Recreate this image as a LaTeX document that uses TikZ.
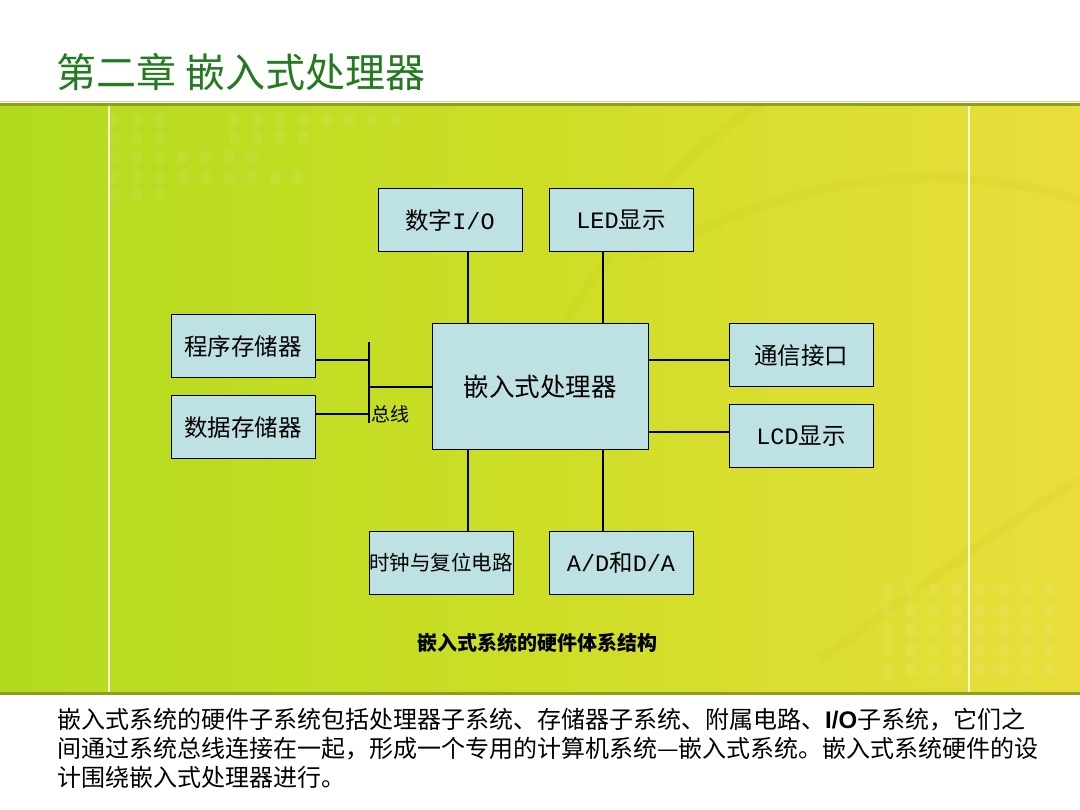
\documentclass[tikz,border=0pt]{standalone}
\usepackage{fontspec}
\setmainfont{Noto Sans CJK SC}
\newfontfamily\cjk{Noto Sans CJK SC}
\newfontfamily\latmono{Liberation Mono}
\newfontfamily\latsans{Liberation Sans}
\usetikzlibrary{calc}
\definecolor{bandL}{HTML}{B2DB1E}
\definecolor{bandM}{HTML}{CDDE26}
\definecolor{bandR}{HTML}{E9DE3C}
\definecolor{edge}{HTML}{8CA01A}
\definecolor{titlegreen}{HTML}{237A1F}
\definecolor{boxfill}{HTML}{BEE1E3}
\tikzset{
  blk/.style={draw=black, line width=1pt, fill=boxfill, minimum width=144pt, minimum height=63pt, inner sep=0pt, font=\fontsize{23.5}{26}\selectfont, text=black},
  wire/.style={line width=2.6pt, black},
  deco/.style={white, opacity=0.07},
  arcdeco/.style={line width=9pt, draw=olive!60!yellow, opacity=0.08}
}
\begin{document}
\begin{tikzpicture}[x=1pt,y=-1pt]
\useasboundingbox (0,0) rectangle (1080,810);
\fill[white] (0,0) rectangle (1080,810);
% band
\shade[left color=bandL, right color=bandR, middle color=bandM, shading angle=90] (0,105) rectangle (1080,693);
% decorative arcs
\draw[arcdeco] (560,330) .. controls (640,200) and (700,140) .. (760,105);
\draw[arcdeco] (640,260) .. controls (800,170) and (950,160) .. (1080,200);
\draw[arcdeco] (820,660) .. controls (930,580) and (1010,520) .. (1080,480);
% decorative dots top-left
\foreach \r/\n in {120/2, 138/2, 157/6, 177/8, 195/2} {
  \foreach \i in {0,...,\n} { \fill[deco] ({114+23*\i},\r) ellipse (5.5pt and 7pt); }
}
\foreach \i in {0,...,7} { \fill[deco] ({234+23*\i},120) ellipse (5.5pt and 7pt); }
\foreach \i in {0,...,3} { \fill[deco] ({234+23*\i},138) ellipse (5.5pt and 7pt); }
% decorative dots bottom-right
\foreach \r in {590,610,630,650,670} {
  \foreach \i in {0,...,7} { \fill[deco] ({888+23*\i},\r) ellipse (5.5pt and 7pt); }
}
% band edges
\draw[line width=1pt, color=edge!40] (0,102) -- (1080,102);
\draw[line width=3pt, color=edge] (0,104.5) -- (1080,104.5);
\draw[line width=3pt, color=edge] (0,693) -- (1080,693);
% white vertical lines
\draw[line width=2pt, color=white!85!yellow] (109,106) -- (109,691.5);
\draw[line width=2pt, color=white!85!yellow] (969,106) -- (969,691.5);
% title
\node[anchor=base west, inner sep=0pt, text=titlegreen, font=\fontsize{40}{44}\selectfont] (title) at (56,88) {第二章 嵌入式处理器};
% blocks
\node[blk] (dio) at (450,220.5) {数字{\latmono I/O}};
\node[blk] (led) at (621,220.5) {{\latmono LED}显示};
\node[blk, minimum width=216pt, minimum height=126pt, font=\fontsize{25.5}{28}\selectfont] (cpu) at (540,387) {嵌入式处理器};
\node[blk] (prog) at (243,346.5) {程序存储器};
\node[blk] (data) at (243,427.5) {数据存储器};
\node[blk] (comm) at (801,355.5) {通信接口};
\node[blk] (lcd) at (801,436.5) {{\latmono LCD}显示};
\node[blk, font=\fontsize{20.5}{24}\selectfont] (clk) at (441,562.5) {时钟与复位电路};
\node[blk] (adda) at (621,562.5) {{\latmono A/D}和{\latmono D/A}};
% bus
\coordinate (bustop) at (369,342);
\coordinate (busbot) at (369,423);
\draw[wire] (bustop) -- (busbot);
\node[anchor=west, inner sep=0pt, font=\fontsize{19}{22}\selectfont] (buslbl) at (371,414) {总线};
% connectors
\draw[wire] ([yshift=-13.5pt]prog.east) -- ([yshift=-13.5pt]prog.east -| bustop);
\draw[wire] ([yshift=13.5pt]data.east) -- ([yshift=13.5pt]data.east -| bustop);
\draw[wire] (cpu.west -| bustop) -- (cpu.west);
\draw[wire] ([xshift=18pt]dio.south) -- ([xshift=18pt]dio.south |- cpu.north);
\draw[wire] ([xshift=-18pt]led.south) -- ([xshift=-18pt]led.south |- cpu.north);
\draw[wire] ([yshift=-4.5pt]comm.west) -- ([yshift=-4.5pt]comm.west -| cpu.east);
\draw[wire] ([yshift=4.5pt]lcd.west) -- ([yshift=4.5pt]lcd.west -| cpu.east);
\draw[wire] ([xshift=27pt]clk.north) -- ([xshift=27pt]clk.north |- cpu.south);
\draw[wire] ([xshift=-18pt]adda.north) -- ([xshift=-18pt]adda.north |- cpu.south);
% caption
\node[font=\fontsize{20}{24}\selectfont\bfseries] (caption) at (537,643) {嵌入式系统的硬件体系结构};
% bottom text
\node[anchor=base west, inner sep=0pt, font=\fontsize{24}{29}\selectfont] (l1) at (57,728) {嵌入式系统的硬件子系统包括处理器子系统、存储器子系统、附属电路、{\latsans\bfseries I/O}子系统，它们之};
\node[anchor=base west, inner sep=0pt, font=\fontsize{24}{29}\selectfont] (l2) at (57,757) {间通过系统总线连接在一起，形成一个专用的计算机系统—嵌入式系统。嵌入式系统硬件的设};
\node[anchor=base west, inner sep=0pt, font=\fontsize{24}{29}\selectfont] (l3) at (57,786) {计围绕嵌入式处理器进行。};
\end{tikzpicture}
\end{document}
